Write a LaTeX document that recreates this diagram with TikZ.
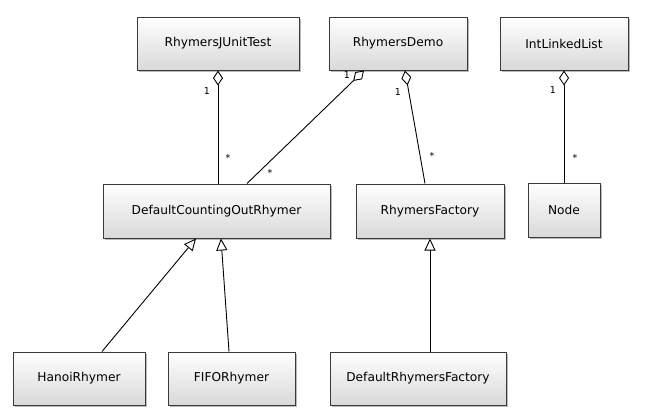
\documentclass[tikz,border=0pt]{standalone}
\usepackage{fontspec}
\setmainfont{DejaVu Sans}
\usetikzlibrary{arrows.meta,shadows}
\definecolor{edge}{HTML}{3A3A3A}
\tikzset{
  cls/.style={draw=edge, line width=1pt, rectangle, top color=white, bottom color=black!15,
    drop shadow={shadow xshift=2pt, shadow yshift=-2pt, fill=black!45, opacity=0.6},
    font=\fontsize{12.2}{14}\selectfont, inner sep=0pt},
  agg/.style={draw=black, line width=0.9pt, {Diamond[open,length=15pt,width=10pt,fill=white]}-},
  gen/.style={draw=black, line width=0.9pt, -{Triangle[open,length=12pt,width=11pt,fill=white]}},
  mult/.style={font=\fontsize{9.5}{11}\selectfont, inner sep=0pt}
}
\begin{document}
\begin{tikzpicture}[x=1pt,y=-1pt]
\useasboundingbox[fill=white] (0,0) rectangle (649,416);
\node[cls, minimum width=162pt, minimum height=53pt] (jut) at (218,43.5) {RhymersJUnitTest};
\node[cls, minimum width=138pt, minimum height=53pt] (demo) at (398,43.5) {RhymersDemo};
\node[cls, minimum width=128pt, minimum height=53pt] (ill) at (564,43.5) {IntLinkedList};
\node[cls, minimum width=72pt, minimum height=54pt] (nd) at (564,210) {Node};
\node[cls, minimum width=227pt, minimum height=54pt] (dcor) at (216.5,211) {DefaultCountingOutRhymer};
\node[cls, minimum width=148pt, minimum height=54pt] (rf) at (430,211) {RhymersFactory};
\node[cls, minimum width=132pt, minimum height=53pt] (hanoi) at (79,378.5) {HanoiRhymer};
\node[cls, minimum width=127pt, minimum height=53pt] (fifo) at (231.5,378.5) {FIFORhymer};
\node[cls, minimum width=176pt, minimum height=53pt] (drf) at (418,378.5) {DefaultRhymersFactory};
% aggregations
\draw[agg] (jut.south) -- (jut.south |- dcor.north);
\draw[agg] ([xshift=-34pt]demo.south) -- ([xshift=30.5pt]dcor.north);
\draw[agg] ([xshift=7pt]demo.south) -- ([xshift=-5pt]rf.north);
\draw[agg] (ill.south) -- (ill.south |- nd.north);
% generalizations
\draw[gen] ([xshift=23pt]hanoi.north) -- ([xshift=-20.5pt]dcor.south);
\draw[gen] ([xshift=-2.5pt]fifo.north) -- ([xshift=4.5pt]dcor.south);
\draw[gen] ([xshift=12pt]drf.north) -- ([xshift=0pt]rf.south);
% multiplicities
\node[mult] (m1) at (207,91) {1};
\node[mult] (m2) at (228,158) {*};
\node[mult] (m3) at (347,75) {1};
\node[mult] (m4) at (270,173) {*};
\node[mult] (m5) at (398,92) {1};
\node[mult] (m6) at (432,156) {*};
\node[mult] (m7) at (553,90) {1};
\node[mult] (m8) at (575,158) {*};
\end{tikzpicture}
\end{document}
